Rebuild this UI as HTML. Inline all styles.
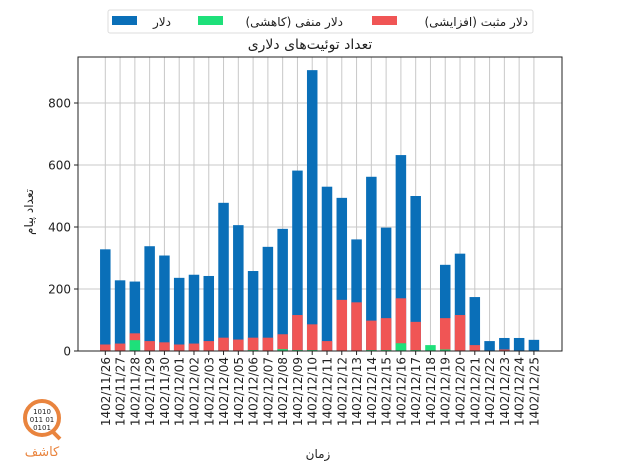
<!DOCTYPE html>
<html><head><meta charset="utf-8"><style>
html,body{margin:0;padding:0;background:#fff;width:624px;height:468px;overflow:hidden}
text{font-family:"DejaVu Sans","Liberation Sans","Noto Sans CJK SC",sans-serif;fill:#222}
</style></head><body>
<svg width="624" height="468" viewBox="0 0 624 468" xmlns="http://www.w3.org/2000/svg">
<rect width="624" height="468" fill="#fff"/>
<g id="grid" stroke="#c8c8c8" stroke-width="1"></g>
<g id="bars"></g>
<rect x="78" y="57" width="484" height="294" fill="none" stroke="#222" stroke-width="1"/>
<g id="yt" font-size="12"></g>
<g id="xt" font-size="12"></g>
<text x="310" y="49" font-size="14" text-anchor="middle">تعداد توئیت‌های دلاری</text>
<text transform="translate(33,212) rotate(-90)" font-size="12" text-anchor="middle">تعداد پیام</text>
<text x="318" y="458" font-size="12" text-anchor="middle">زمان</text>
<rect x="108" y="10" width="425" height="23" fill="#fff" stroke="#ddd" rx="2"/>
<rect x="112" y="16" width="25" height="9" fill="#0a6fb8"/>
<text x="171" y="26" font-size="12" text-anchor="end">دلار</text>
<rect x="198" y="16" width="25" height="9" fill="#1ee07a"/>
<text x="343" y="26" font-size="12" text-anchor="end">دلار منفی (کاهشی)</text>
<rect x="372" y="16" width="25" height="9" fill="#f05555"/>
<text x="528" y="26" font-size="12" text-anchor="end">دلار مثبت (افزایشی)</text>
<g transform="translate(22,398)">
<circle cx="20" cy="20" r="17" fill="none" stroke="#e9843e" stroke-width="4"/>
<line x1="30" y1="33" x2="38" y2="41" stroke="#e9843e" stroke-width="4"/>
<text x="20" y="16" font-size="7" text-anchor="middle" fill="#555">1010</text>
<text x="20" y="24" font-size="7" text-anchor="middle" fill="#555">011 01</text>
<text x="20" y="32" font-size="7" text-anchor="middle" fill="#555">0101</text>
<text x="20" y="58" font-size="13" text-anchor="middle" style="fill:#e9843e">کاشف</text>
</g>
</svg>
<script>
const ns="http://www.w3.org/2000/svg";
const blue=[328,228,224,338,308,236,246,242,478,406,258,336,394,582,906,530,494,360,562,398,632,500,0,278,314,174,32,42,42,36];
const red=[21,24,57,32,28,21,24,32,43,37,43,43,54,116,86,32,165,157,98,106,170,94,0,106,116,19,0,5,0,0];
const green=[0,0,35,0,0,0,0,0,0,0,3,0,6,3,3,0,0,0,3,3,25,3,19,5,0,0,0,0,0,0];
const y=v=>351-v*0.31;
const cx=i=>105.3+i*14.78;
const g=document.getElementById('grid'),b=document.getElementById('bars'),yt=document.getElementById('yt'),xt=document.getElementById('xt');
function el(p,t,a,txt){const e=document.createElementNS(ns,t);for(const k in a)e.setAttribute(k,a[k]);if(txt)e.textContent=txt;p.appendChild(e);return e;}
for(let v=0;v<=800;v+=200){el(g,'line',{x1:78,x2:562,y1:y(v),y2:y(v)});el(yt,'line',{x1:74,x2:78,y1:y(v),y2:y(v),stroke:'#222'});el(yt,'text',{x:71,y:y(v)+4.5,'text-anchor':'end'},String(v));}
for(let i=0;i<30;i++){
 const x=cx(i);el(g,'line',{x1:x,x2:x,y1:57,y2:351});
 const w=10.5;
 if(blue[i])el(b,'rect',{x:x-w/2,y:y(blue[i]),width:w,height:351-y(blue[i]),fill:'#0a6fb8'});
 if(red[i])el(b,'rect',{x:x-w/2,y:y(red[i]),width:w,height:351-y(red[i]),fill:'#f05555'});
 if(green[i])el(b,'rect',{x:x-w/2,y:y(green[i]),width:w,height:351-y(green[i]),fill:'#1ee07a'});
 el(xt,'line',{x1:x,x2:x,y1:351,y2:355,stroke:'#222'});
 const d=i<5?'1402/11/'+(26+i):'1402/12/'+String(i-4).padStart(2,'0');
 el(xt,'text',{transform:`translate(${x+4.5},357) rotate(-90)`,'text-anchor':'end'},d);
}
</script>
</body></html>
